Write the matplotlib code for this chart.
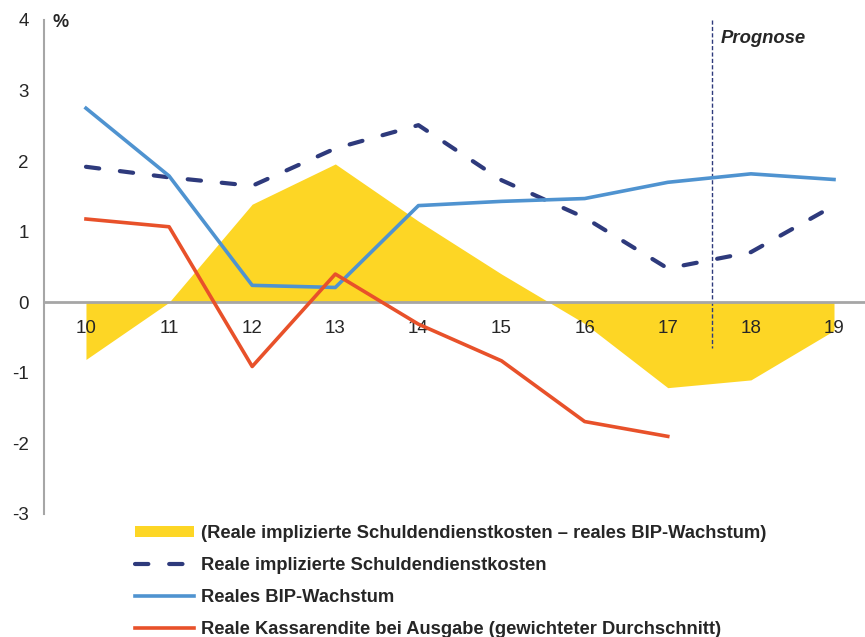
import matplotlib
matplotlib.use('Agg')
import matplotlib.pyplot as plt
from matplotlib.patches import Patch
from matplotlib.lines import Line2D

plt.rcParams['font.family'] = ['Liberation Sans', 'DejaVu Sans']
plt.rcParams['axes.unicode_minus'] = False

# data
years = [10, 11, 12, 13, 14, 15, 16, 17, 18, 19]
differenz = [-0.81, 0.0, 1.39, 1.96, 1.15, 0.40, -0.30, -1.21, -1.10, -0.40]
schuldendienst = [1.92, 1.77, 1.65, 2.18, 2.51, 1.73, 1.20, 0.48, 0.71, 1.37]
bip = [2.75, 1.79, 0.24, 0.21, 1.37, 1.43, 1.47, 1.70, 1.82, 1.74]
kassa_years = [10, 11, 12, 13, 14, 15, 16, 17]
kassarendite = [1.18, 1.07, -0.91, 0.40, -0.31, -0.83, -1.69, -1.90]
prognose_x = 17.53

labels = ['(Reale implizierte Schuldendienstkosten – reales BIP-Wachstum)',
          'Reale implizierte Schuldendienstkosten',
          'Reales BIP-Wachstum',
          'Reale Kassarendite bei Ausgabe (gewichteter Durchschnitt)']

yellow = '#FDD625'
navy = '#2E3A7C'
blue = '#4F93D0'
red = '#E8512A'
grey = '#A6A6A6'
txt = '#262626'

fig = plt.figure(figsize=(8.65, 6.37), dpi=100)
ax = fig.add_axes([44/865, 1-514/637, 1-44/865, (514-20)/637])

ax.fill_between(years, differenz, 0, color=yellow, lw=0, zorder=1)
ax.plot(years, schuldendienst, color=navy, lw=3, dashes=(3.2, 5),
        dash_capstyle='round', zorder=3)
ax.plot(years, bip, color=blue, lw=2.6, zorder=4)
ax.plot(kassa_years, kassarendite, color=red, lw=2.6, zorder=5)

# prognose marker
ax.plot([prognose_x, prognose_x], [4, -0.65], color=navy, lw=1,
        ls=(0, (3, 1.6)), zorder=2)
ax.text(prognose_x + 0.11, 3.74, 'Prognose', fontsize=13.3, fontweight='bold',
        fontstyle='italic', color=txt, va='center', ha='left')

ax.set_xlim(9.495, 19.373)
ax.set_ylim(-3, 4)
ax.set_yticks(range(-3, 5))
ax.set_xticks(years)
ax.set_xticklabels([str(y) for y in years])

for s in ['top', 'right']:
    ax.spines[s].set_visible(False)
ax.spines['left'].set_color(grey)
ax.spines['left'].set_linewidth(1.5)
ax.spines['bottom'].set_position(('data', 0))
ax.spines['bottom'].set_color(grey)
ax.spines['bottom'].set_linewidth(2)
ax.spines['bottom'].set_zorder(2.5)
ax.tick_params(axis='both', length=0, labelsize=13.5, labelcolor=txt)
ax.tick_params(axis='y', pad=11)
ax.tick_params(axis='x', pad=13)
ax.patch.set_visible(False)

ax.text(0.01, 0.995, '%', transform=ax.transAxes, fontsize=13,
        fontweight='bold', color=txt, va='center', ha='left')

handles = [Patch(facecolor=yellow, edgecolor='none'),
           Line2D([], [], color=navy, lw=3, dashes=(3.2, 5), dash_capstyle='round'),
           Line2D([], [], color=blue, lw=2.6),
           Line2D([], [], color=red, lw=2.6)]
leg = fig.legend(handles, labels, loc='upper left',
                 bbox_to_anchor=(135/865, 1-525/637), frameon=False,
                 prop={'weight': 'bold', 'size': 13.2}, handlelength=3.2,
                 handleheight=0.55, handletextpad=0.39, borderpad=0,
                 borderaxespad=0, labelspacing=0.82)
for t in leg.get_texts():
    t.set_color(txt)

fig.savefig('out.png', dpi=100)
